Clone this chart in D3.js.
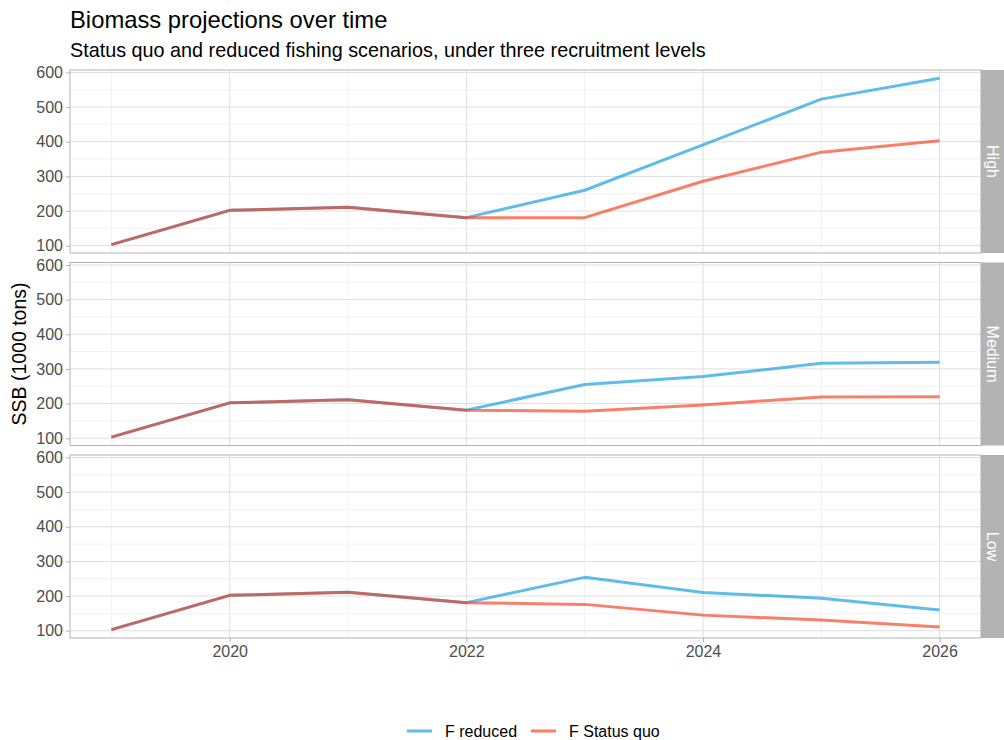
<!DOCTYPE html>
<html>
<head>
<meta charset="utf-8">
<script src="https://cdn.jsdelivr.net/npm/d3@7"></script>
<style>
  body { margin: 0; background: #fff; }
  svg { font-family: "Liberation Sans", Arial, sans-serif; }
</style>
</head>
<body>
<svg id="chart" width="1004" height="740"></svg>
<script>
// Projection years and recruitment scenarios (facet rows)
const years = [2019, 2020, 2021, 2022, 2023, 2024, 2025, 2026];
const recruitment = ["High", "Medium", "Low"];

// SSB (1000 tons) per scenario and recruitment level
const highReduced    = [103, 202, 211, 181, 260, 391, 523, 583];
const highStatusQuo  = [103, 202, 211, 181, 181, 286, 370, 403];
const medReduced     = [103, 202, 211, 181, 255, 278, 316, 319];
const medStatusQuo   = [103, 202, 211, 181, 178, 196, 219, 220];
const lowReduced     = [103, 202, 211, 181, 254, 210, 194, 160];
const lowStatusQuo   = [103, 202, 211, 181, 176, 145, 131, 111];

const seriesNames = ["F reduced", "F Status quo"];
const seriesColors = ["#0b98dc", "#f83a1a"];
const yTicks = [100, 200, 300, 400, 500, 600];
const xTicks = [2020, 2022, 2024, 2026];

const panelData = {
  "High":   [highReduced, highStatusQuo],
  "Medium": [medReduced, medStatusQuo],
  "Low":    [lowReduced, lowStatusQuo]
};

const svg = d3.select("#chart");

// Layout
const left = 70, right = 981, stripW = 23;
const panelH = 183, pitch = 192.5, top0 = 70;

// Scales with 5% expansion on both axes (shared across panels)
const allVals = [].concat(highReduced, highStatusQuo, medReduced, medStatusQuo, lowReduced, lowStatusQuo);
const yMin = d3.min(allVals), yMax = d3.max(allVals);
const yPad = (yMax - yMin) * 0.05;
const xPad = (d3.max(years) - d3.min(years)) * 0.05;
const x = d3.scaleLinear()
  .domain([d3.min(years) - xPad, d3.max(years) + xPad])
  .range([left, right]);

const xMinor = [2019, 2021, 2023, 2025];
const yMinor = [150, 250, 350, 450, 550];

// Title and subtitle
svg.append("text").attr("x", 70).attr("y", 28)
  .attr("font-size", 23.8).attr("fill", "#000")
  .text("Biomass projections over time");
svg.append("text").attr("x", 70).attr("y", 57)
  .attr("font-size", 19.8).attr("fill", "#000")
  .text("Status quo and reduced fishing scenarios, under three recruitment levels");

recruitment.forEach((rec, i) => {
  const top = top0 + i * pitch;
  const bottom = top + panelH;
  const y = d3.scaleLinear().domain([yMin - yPad, yMax + yPad]).range([bottom, top]);
  const g = svg.append("g");

  // minor grid
  g.selectAll(".xminor").data(xMinor).join("line")
    .attr("x1", d => x(d)).attr("x2", d => x(d)).attr("y1", top).attr("y2", bottom)
    .attr("stroke", "#ececec").attr("stroke-width", 0.7);
  g.selectAll(".yminor").data(yMinor).join("line")
    .attr("x1", left).attr("x2", right).attr("y1", d => y(d)).attr("y2", d => y(d))
    .attr("stroke", "#ececec").attr("stroke-width", 0.7);
  // major grid
  g.selectAll(".xmajor").data(xTicks).join("line")
    .attr("x1", d => x(d)).attr("x2", d => x(d)).attr("y1", top).attr("y2", bottom)
    .attr("stroke", "#dedede").attr("stroke-width", 1);
  g.selectAll(".ymajor").data(yTicks).join("line")
    .attr("x1", left).attr("x2", right).attr("y1", d => y(d)).attr("y2", d => y(d))
    .attr("stroke", "#dedede").attr("stroke-width", 1);

  // lines
  const line = d3.line().x((d, k) => x(years[k])).y(d => y(d));
  panelData[rec].forEach((vals, s) => {
    g.append("path").datum(vals)
      .attr("d", line)
      .attr("fill", "none")
      .attr("stroke", seriesColors[s])
      .attr("stroke-opacity", 0.65)
      .attr("stroke-width", 3)
      .attr("stroke-linejoin", "round");
  });

  // panel border
  g.append("rect").attr("x", left).attr("y", top)
    .attr("width", right - left).attr("height", panelH)
    .attr("fill", "none").attr("stroke", "#b3b3b3").attr("stroke-width", 1);

  // y axis
  const ya = g.append("g").attr("transform", `translate(${left},0)`)
    .call(d3.axisLeft(y).tickValues(yTicks).tickSize(4).tickPadding(3));
  ya.select(".domain").remove();
  ya.selectAll(".tick line").attr("stroke", "#b3b3b3");
  ya.selectAll(".tick text").attr("fill", "#4d4d4d").attr("font-size", 16)
    .attr("font-family", "Liberation Sans, Arial, sans-serif");

  // strip
  g.append("rect").attr("x", right).attr("y", top)
    .attr("width", stripW).attr("height", panelH).attr("fill", "#b3b3b3");
  g.append("text")
    .attr("transform", `translate(${right + stripW / 2},${top + panelH / 2}) rotate(90)`)
    .attr("text-anchor", "middle").attr("dy", "0.35em")
    .attr("fill", "#fff").attr("font-size", 16)
    .text(rec);

  // x axis on bottom panel
  if (i === recruitment.length - 1) {
    const xa = g.append("g").attr("transform", `translate(0,${bottom})`)
      .call(d3.axisBottom(x).tickValues(xTicks).tickFormat(d3.format("d")).tickSize(4).tickPadding(4));
    xa.select(".domain").remove();
    xa.selectAll(".tick line").attr("stroke", "#b3b3b3");
    xa.selectAll(".tick text").attr("fill", "#4d4d4d").attr("font-size", 16)
      .attr("font-family", "Liberation Sans, Arial, sans-serif");
  }
});

// y axis title
svg.append("text")
  .attr("transform", `translate(26,${top0 + (2 * pitch + panelH) / 2}) rotate(-90)`)
  .attr("text-anchor", "middle").attr("font-size", 19.5).attr("fill", "#000")
  .text("SSB (1000 tons)");

// legend
const legend = svg.append("g").attr("transform", "translate(0,731)");
const legendX = [407, 531];
seriesNames.forEach((name, s) => {
  legend.append("line")
    .attr("x1", legendX[s]).attr("x2", legendX[s] + 25)
    .attr("y1", 0).attr("y2", 0)
    .attr("stroke", seriesColors[s]).attr("stroke-opacity", 0.65).attr("stroke-width", 3);
  legend.append("text").attr("x", legendX[s] + 38).attr("y", 0).attr("dy", "0.35em")
    .attr("font-size", 16).attr("fill", "#000").text(name);
});
</script>
</body>
</html>
